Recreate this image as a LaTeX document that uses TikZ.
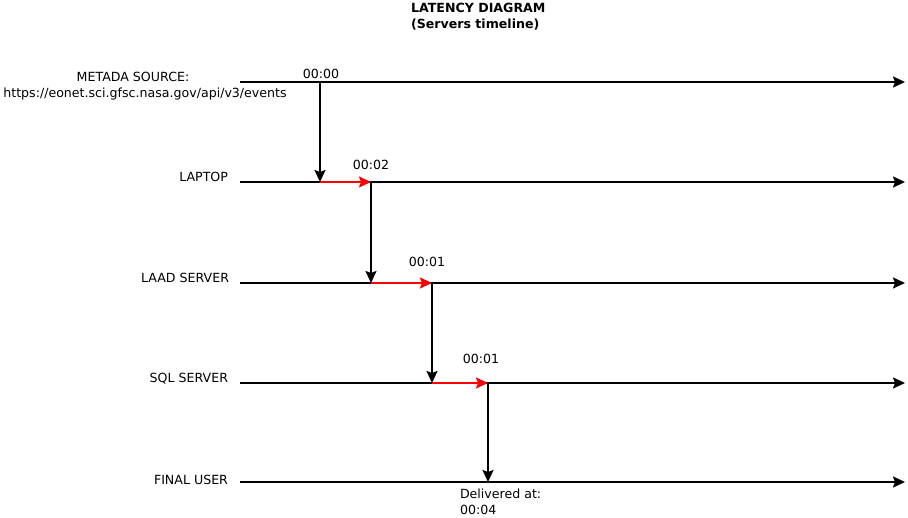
\documentclass[tikz,border=0pt]{standalone}
\usepackage{fontspec}
\setmainfont{DejaVu Sans}
\usetikzlibrary{arrows.meta}
\begin{document}
\begin{tikzpicture}[x=1pt, y=-1pt, >={Stealth[length=12pt,width=11pt,inset=2pt]}, line width=2pt,
		lbl/.style={inner sep=0pt, font=\fontsize{12.6}{16}\selectfont},
		delay/.style={->, red}]
	\useasboundingbox (0,0) rectangle (908,518);
	
	% --- Titolo ---
	\node[lbl, font=\fontsize{12.6}{16}\selectfont\bfseries, anchor=base west, align=left] (title) at (410,28.6)
	{LATENCY DIAGRAM\\(Servers timeline)};
	
	% --- Timeline ---
	\foreach \n/\y in {src/82, lap/182, laad/283, sql/383, usr/482} {
		\coordinate (\n0) at (240,\y);
		\coordinate (\n1) at (905,\y);
		\draw[->] (\n0) -- (\n1);
	}
	
	% --- Etichette server ---
	\node[lbl, anchor=base, align=center] (src) at (145,98)
	{METADA SOURCE:\hspace*{24pt}\\https://eonet.sci.gfsc.nasa.gov/api/v3/events};
	\node[lbl, anchor=base east] (lap) at (229,182) {LAPTOP};
	\node[lbl, anchor=base east] (laad) at (230,283) {LAAD SERVER};
	\node[lbl, anchor=base east] (sql) at (229,383) {SQL SERVER};
	\node[lbl, anchor=base east] (usr) at (229,485) {FINAL USER};
	
	% --- Eventi ---
	\coordinate (e0) at (320,82);
	\coordinate (e1) at (320,182);
	\coordinate (e2) at (371,182);
	\coordinate (e3) at (371,283);
	\coordinate (e4) at (432,283);
	\coordinate (e5) at (432,383);
	\coordinate (e6) at (488,383);
	\coordinate (e7) at (488,482);
	
	\foreach \i/\j in {1/2, 3/4, 5/6}
		\draw[delay] (e\i) -- (e\j);
	\foreach \i/\j in {0/1, 2/3, 4/5, 6/7}
		\draw[->] (e\i) -- (e\j);
	
	% --- Tempi ---
	\node[lbl, anchor=base] (t0) at (321,78.6) {00:00};
	\node[lbl, anchor=base] (t1) at (371,169.6) {00:02};
	\node[lbl, anchor=base] (t2) at (427,266.6) {00:01};
	\node[lbl, anchor=base] (t3) at (481,363.6) {00:01};
	\node[lbl, anchor=base west, align=left] (tend) at (459,514.6) {Delivered at:\\00:04};
\end{tikzpicture}
\end{document}
